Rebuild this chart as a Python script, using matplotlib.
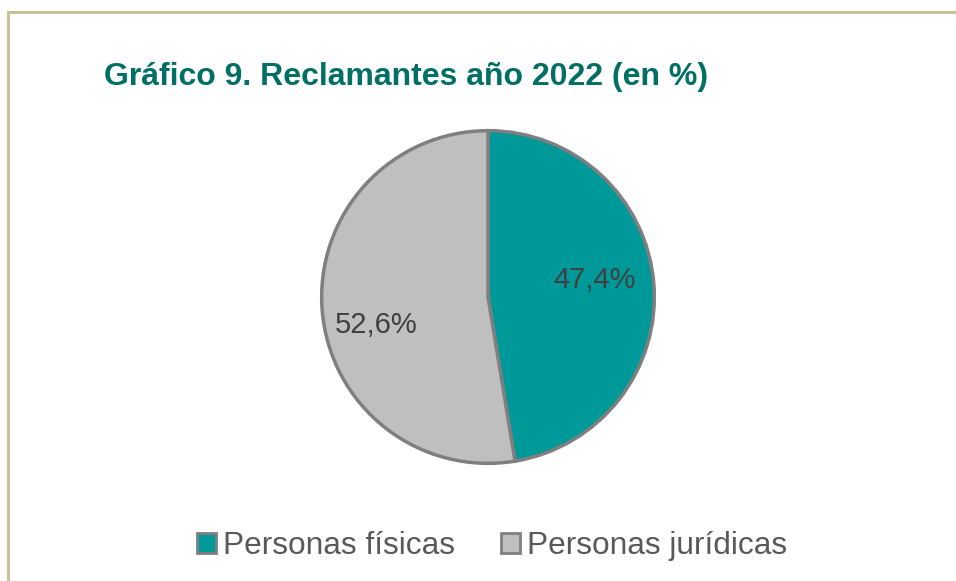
import matplotlib
matplotlib.use("Agg")
import matplotlib.pyplot as plt
from matplotlib.patches import Rectangle, Patch

plt.rcParams['font.family'] = ['Liberation Sans', 'DejaVu Sans']

categories = ["Personas físicas", "Personas jurídicas"]
values = [47.4, 52.6]
labels = ["47,4%", "52,6%"]
colors = ["#009999", "#BFBFBF"]
title = "Gráfico 9. Reclamantes año 2022 (en %)"

W, H = 956, 581
fig = plt.figure(figsize=(W / 100, H / 100), dpi=100)

# border
fig.add_artist(Rectangle((8 / W, -0.1), 1.2, 1.1 - 12 / H, transform=fig.transFigure,
                         fill=False, edgecolor="#C9BC8E", linewidth=2))

fig.text(104 / W, 1 - 85 / H, title, fontsize=23, fontweight='bold', color="#006F66",
         ha='left', va='baseline')

cx, cy, r = 488, 297, 168
ax = fig.add_axes([(cx - r) / W, (H - cy - r) / H, 2 * r / W, 2 * r / H])
wedges, texts = ax.pie(values, colors=colors, startangle=90, counterclock=False,
                       labels=labels, labeldistance=0.66,
                       wedgeprops=dict(edgecolor="#7F7F7F", linewidth=2.5),
                       textprops=dict(fontsize=21, color="#404040", ha='center', va='center'))
# label placement offsets (Excel "best fit" style)
texts[0].set_position((0.64, 0.10))
texts[1].set_position((-0.67, -0.17))
ax.set_xlim(-1.01, 1.01)
ax.set_ylim(-1.01, 1.01)
ax.set_aspect('equal')
ax.axis('off')

handles = [Patch(facecolor=c, edgecolor="#7F7F7F", linewidth=2) for c in colors]
fig.legend(handles, categories, loc='center', bbox_to_anchor=(492 / W, 1 - 546 / H), ncol=2,
           frameon=False, fontsize=22.8, labelcolor="#595959", handlelength=0.6, handleheight=0.6,
           handletextpad=0.22, columnspacing=1.45, borderpad=0, borderaxespad=0)

fig.savefig("out.png", dpi=100)
